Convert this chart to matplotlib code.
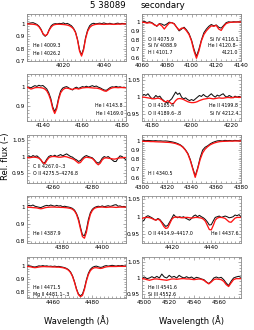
import numpy as np
import matplotlib
matplotlib.use("Agg")
import matplotlib.pyplot as plt
from matplotlib.ticker import MultipleLocator, FuncFormatter

# ---------------- data ----------------
# each panel: wavelength grid start / step, observed (black) and model (red) flux
wl_4000 = (4002, 1)
obs_4000 = [1.002, 1.005, 1.008, 1.010, 1.003, 0.995, 0.980, 0.955, 0.915, 0.900,
            0.915, 0.955, 0.985, 0.998, 1.002, 1.000, 1.004, 1.002, 1.008, 1.000,
            1.004, 0.995, 0.985, 0.965, 0.935, 0.875, 0.790, 0.750, 0.800, 0.890,
            0.950, 0.985, 1.000, 1.005, 1.000, 1.003, 1.006, 1.002, 1.008, 1.003,
            1.000, 1.005, 1.000, 0.997, 1.003, 1.006, 1.000, 1.004, 1.002, 1.000, 1.001]
mod_4000 = [1.000, 1.000, 0.998, 0.997, 0.995, 0.990, 0.975, 0.950, 0.920, 0.905,
            0.915, 0.950, 0.975, 0.990, 0.995, 0.997, 0.997, 0.996, 0.995, 0.993,
            0.990, 0.985, 0.975, 0.960, 0.930, 0.870, 0.780, 0.740, 0.790, 0.880,
            0.940, 0.970, 0.985, 0.992, 0.996, 0.998, 0.998, 0.997, 0.996, 0.997,
            0.998, 0.998, 0.997, 0.996, 0.997, 0.998, 0.998, 0.999, 1.000, 1.000, 1.000]

wl_4060 = (4060, 2)
obs_4060 = [0.997, 1.005, 0.990, 1.000, 0.990, 0.970, 0.950, 0.980, 0.975, 0.960,
            0.975, 0.995, 0.990, 0.980, 0.940, 0.900, 0.920, 0.940, 0.910, 0.870,
            0.800, 0.700, 0.620, 0.700, 0.800, 0.880, 0.920, 0.950, 0.970, 0.955,
            0.965, 0.940, 0.930, 0.960, 0.990, 1.000, 0.995, 1.000, 0.998, 1.000, 0.997]
mod_4060 = [0.995, 0.993, 0.985, 0.990, 0.985, 0.965, 0.955, 0.975, 0.955, 0.920,
            0.955, 0.985, 0.990, 0.975, 0.940, 0.910, 0.930, 0.930, 0.900, 0.860,
            0.790, 0.680, 0.600, 0.680, 0.790, 0.860, 0.900, 0.930, 0.955, 0.950,
            0.960, 0.920, 0.905, 0.950, 0.980, 0.990, 0.995, 0.995, 0.997, 0.997, 0.998]

wl_4132 = (4132, 1)
obs_4132 = [1.002, 1.000, 0.996, 1.003, 1.008, 1.004, 1.010, 1.006, 1.009, 1.000,
            0.990, 0.970, 0.940, 0.895, 0.870, 0.895, 0.945, 0.980, 0.995, 1.000,
            1.003, 0.997, 0.990, 0.985, 0.995, 1.000, 0.993, 0.998, 1.003, 1.000,
            1.005, 1.000, 1.004, 1.008, 1.003, 1.006, 1.000, 0.996, 0.990, 0.985,
            0.983, 0.990, 0.998, 1.002, 1.000, 1.004, 1.000, 1.002, 0.998, 1.000, 0.997]
mod_4132 = [1.000, 0.995, 0.990, 0.993, 0.997, 0.998, 0.998, 0.997, 0.995, 0.990,
            0.980, 0.960, 0.930, 0.885, 0.860, 0.885, 0.935, 0.970, 0.985, 0.993,
            0.995, 0.993, 0.990, 0.988, 0.992, 0.993, 0.990, 0.993, 0.996, 0.997,
            0.998, 0.998, 0.997, 0.996, 0.995, 0.995, 0.993, 0.990, 0.985, 0.980,
            0.978, 0.985, 0.992, 0.996, 0.998, 0.998, 0.997, 0.998, 0.998, 0.997, 0.997]

wl_4175 = (4175, 1)
obs_4175 = [1.003, 1.008, 1.005, 1.010, 1.002, 0.995, 0.998, 1.005, 1.000, 1.003,
            0.995, 0.990, 0.985, 0.983, 0.990, 0.995, 1.005, 1.015, 1.008, 1.012,
            1.000, 0.995, 0.998, 0.993, 0.990, 0.993, 0.990, 0.995, 1.000, 1.005,
            1.002, 1.008, 1.003, 1.000, 1.005, 1.010, 1.004, 1.000, 1.006, 1.003,
            1.007, 1.010, 1.003, 1.000, 1.005, 1.002, 0.998, 1.003, 1.000, 1.002, 1.000]
mod_4175 = [1.000, 1.000, 0.999, 0.998, 0.997, 0.996, 0.995, 0.996, 0.997, 0.996,
            0.993, 0.988, 0.986, 0.990, 0.985, 0.980, 0.982, 0.990, 0.995, 0.996,
            0.995, 0.993, 0.990, 0.987, 0.985, 0.984, 0.984, 0.985, 0.987, 0.990,
            0.992, 0.994, 0.995, 0.996, 0.997, 0.996, 0.995, 0.996, 0.997, 0.998,
            0.997, 0.997, 0.998, 0.999, 0.999, 0.998, 0.999, 1.000, 1.000, 0.999, 1.000]

wl_4247 = (4247, 1)
obs_4247 = [1.000, 1.002, 0.998, 1.003, 1.000, 1.002, 0.997, 0.990, 0.980, 0.982,
            0.992, 1.000, 1.003, 1.000, 1.004, 1.000, 1.003, 1.006, 1.002, 1.005,
            1.008, 1.004, 1.000, 0.998, 0.993, 0.990, 0.985, 0.988, 0.995, 1.000,
            1.003, 1.000, 0.998, 0.996, 0.990, 0.983, 0.980, 0.985, 0.995, 1.000,
            0.997, 1.000, 0.995, 0.990, 0.985, 0.985, 0.995, 1.002, 1.000, 0.995, 0.990]
mod_4247 = [0.997, 0.996, 0.997, 0.998, 0.998, 0.997, 0.995, 0.990, 0.982, 0.978,
            0.988, 0.996, 0.999, 1.000, 1.000, 0.999, 0.998, 0.998, 0.999, 1.000,
            0.999, 0.997, 0.995, 0.993, 0.990, 0.985, 0.980, 0.982, 0.990, 0.996,
            0.998, 0.997, 0.996, 0.994, 0.988, 0.980, 0.975, 0.980, 0.990, 0.995,
            0.996, 0.995, 0.994, 0.993, 0.992, 0.993, 0.995, 0.996, 0.996, 0.997, 0.997]

wl_4299 = (4299, 2)
obs_4299 = [1.000, 1.003, 1.000, 1.002, 1.000, 0.998, 1.000, 0.997, 0.998, 0.995,
            0.997, 0.994, 0.990, 0.985, 0.978, 0.968, 0.955, 0.935, 0.905, 0.865,
            0.800, 0.710, 0.625, 0.710, 0.820, 0.900, 0.930, 0.945, 0.965, 0.980,
            0.990, 0.998, 1.000, 0.997, 1.003, 1.000, 1.002, 0.998, 1.003, 1.000,
            0.998, 1.000]
mod_4299 = [0.995, 0.993, 0.992, 0.992, 0.990, 0.990, 0.988, 0.987, 0.986, 0.985,
            0.983, 0.982, 0.980, 0.975, 0.970, 0.960, 0.950, 0.930, 0.900, 0.860,
            0.790, 0.700, 0.610, 0.700, 0.800, 0.870, 0.910, 0.935, 0.955, 0.968,
            0.978, 0.985, 0.990, 0.992, 0.993, 0.994, 0.995, 0.995, 0.996, 0.996,
            0.997, 0.997]

wl_4362 = (4362, 1)
obs_4362 = [1.005, 1.008, 1.005, 1.010, 1.003, 1.000, 0.997, 0.995, 1.000, 1.005,
            1.008, 1.005, 1.010, 1.006, 1.003, 1.008, 1.004, 1.006, 1.000, 1.003,
            1.000, 0.998, 0.995, 0.990, 0.980, 0.960, 0.930, 0.880, 0.835, 0.830,
            0.865, 0.925, 0.965, 0.985, 0.995, 1.000, 1.003, 1.000, 1.005, 1.000,
            1.003, 1.006, 1.002, 1.005, 1.010, 1.012, 1.003, 1.005, 1.000, 1.002, 0.998]
mod_4362 = [0.998, 0.997, 0.996, 0.995, 0.994, 0.993, 0.990, 0.988, 0.990, 0.994,
            0.996, 0.997, 0.998, 0.998, 0.998, 0.997, 0.997, 0.996, 0.996, 0.995,
            0.994, 0.992, 0.990, 0.985, 0.975, 0.955, 0.920, 0.870, 0.825, 0.815,
            0.850, 0.910, 0.955, 0.978, 0.990, 0.995, 0.997, 0.998, 0.998, 0.997,
            0.996, 0.997, 0.998, 0.998, 0.997, 0.996, 0.997, 0.998, 0.998, 0.998, 0.998]

wl_4405 = (4405, 1)
obs_4405 = [0.985, 0.990, 1.000, 1.003, 1.000, 0.997, 0.993, 0.990, 0.995, 0.992,
            0.985, 0.978, 0.972, 0.975, 0.985, 0.995, 1.006, 1.000, 0.997, 1.000,
            0.998, 1.000, 0.996, 0.993, 0.990, 0.995, 1.002, 1.005, 1.000, 1.004,
            1.000, 0.997, 0.992, 0.985, 0.976, 0.977, 0.988, 0.998, 1.000, 1.002,
            0.998, 1.000, 1.002, 1.000, 0.997, 0.998, 1.000, 1.005, 1.003, 1.006, 1.000]
mod_4405 = [0.995, 0.997, 0.998, 0.998, 0.997, 0.995, 0.992, 0.990, 0.993, 0.990,
            0.982, 0.972, 0.966, 0.968, 0.980, 0.992, 0.998, 0.999, 0.999, 0.998,
            0.997, 0.997, 0.998, 0.998, 0.997, 0.996, 0.997, 0.998, 0.998, 0.997,
            0.996, 0.993, 0.987, 0.975, 0.963, 0.962, 0.975, 0.990, 0.996, 0.998,
            0.998, 0.997, 0.995, 0.990, 0.985, 0.984, 0.990, 0.996, 0.998, 0.998, 0.998]

wl_4447 = (4447, 1)
obs_4447 = [1.005, 1.002, 1.000, 0.995, 0.993, 0.997, 1.002, 1.000, 1.004, 1.000,
            1.002, 0.998, 1.000, 0.997, 1.000, 0.996, 0.998, 0.995, 0.992, 0.988,
            0.982, 0.972, 0.955, 0.925, 0.880, 0.825, 0.785, 0.772, 0.785, 0.830,
            0.895, 0.945, 0.975, 0.990, 0.997, 1.000, 0.995, 0.990, 0.992, 1.000,
            1.004, 1.000, 1.003, 1.006, 1.003, 1.000, 1.004, 1.002, 1.005, 1.000, 1.002]
mod_4447 = [0.997, 0.996, 0.994, 0.990, 0.988, 0.990, 0.993, 0.995, 0.996, 0.996,
            0.995, 0.995, 0.994, 0.993, 0.993, 0.992, 0.992, 0.990, 0.988, 0.984,
            0.978, 0.968, 0.950, 0.920, 0.875, 0.820, 0.780, 0.765, 0.775, 0.820,
            0.885, 0.935, 0.965, 0.980, 0.987, 0.988, 0.985, 0.982, 0.984, 0.990,
            0.994, 0.996, 0.997, 0.997, 0.997, 0.997, 0.998, 0.998, 0.998, 0.998, 0.998]

wl_4498 = (4498, 2)
obs_4498 = [1.000, 1.003, 0.998, 1.000, 1.004, 1.000, 1.005, 1.000, 1.012, 1.003,
            1.000, 1.008, 1.002, 1.005, 1.000, 1.008, 1.003, 1.000, 1.004, 1.000,
            1.003, 0.998, 1.002, 1.000, 0.997, 0.995, 0.988, 0.983, 0.990, 1.000,
            1.003, 1.000, 1.002, 0.995, 0.985, 0.977, 0.990, 1.000, 1.003, 1.005, 1.002]
mod_4498 = [0.998, 0.997, 0.995, 0.993, 0.995, 0.997, 0.997, 0.996, 0.995, 0.994,
            0.993, 0.995, 0.997, 0.997, 0.996, 0.997, 0.998, 0.998, 0.997, 0.997,
            0.996, 0.995, 0.996, 0.997, 0.996, 0.993, 0.987, 0.982, 0.988, 0.995,
            0.997, 0.996, 0.995, 0.990, 0.980, 0.974, 0.985, 0.995, 0.998, 0.998, 0.998]

x_limits = [(4002, 4051), (4060, 4140), (4132, 4182), (4175, 4225), (4247, 4297),
            (4300, 4380), (4362, 4412), (4405, 4455), (4447, 4497), (4498, 4578)]
y_limits = [(0.70, 1.08), (0.57, 1.085), (0.82, 1.07), (0.93, 1.068), (0.92, 1.065),
            (0.55, 1.06), (0.787, 1.063), (0.924, 1.06), (0.755, 1.07), (0.939, 1.064)]
y_major = [0.1, 0.1, 0.1, 0.05, 0.05, 0.1, 0.1, 0.05, 0.1, 0.05]

line_labels = [
    [("He I 4009.3", "l", 0), ("He I 4026.2", "l", 1)],
    [("O II 4075.9", "l", 0), ("Si IV 4088.9", "l", 1), ("H I 4101.7", "l", 2),
     ("Si IV 4116.1", "r", 0), ("He I 4120.8\u2013", "r", 1), ("4121.0", "r", 2)],
    [("He I 4143.8", "r", 0), ("He I 4169.0", "r", 1)],
    [("O II 4185.4", "l", 0), ("O II 4189.6\u2013.8", "l", 1),
     ("He II 4199.8", "r", 0), ("Si IV 4212.4", "r", 1)],
    [("C II 4267.0\u2013.3", "l", 0), ("O II 4275.5\u20134276.8", "l", 1)],
    [("H I 4340.5", "l", 1)],
    [("He I 4387.9", "l", 0)],
    [("O II 4414.9\u20134417.0", "l", 0), ("He I 4437.6", "r", 0)],
    [("He I 4471.5", "l", 0), ("Mg II 4481.1\u2013.3", "l", 1)],
    [("He II 4541.6", "l", 0), ("Si III 4552.6", "l", 1)],
]

grids = [wl_4000, wl_4060, wl_4132, wl_4175, wl_4247, wl_4299, wl_4362, wl_4405, wl_4447, wl_4498]
observed = [obs_4000, obs_4060, obs_4132, obs_4175, obs_4247, obs_4299, obs_4362, obs_4405, obs_4447, obs_4498]
models = [mod_4000, mod_4060, mod_4132, mod_4175, mod_4247, mod_4299, mod_4362, mod_4405, mod_4447, mod_4498]

# ---------------- layout ----------------
W, H = 255, 330
fig = plt.figure(figsize=(W / 100, H / 100), dpi=100)
fig.patch.set_facecolor("white")

cols = [(27, 126), (142, 241)]
rows = [(14, 61), (74, 121), (135, 183), (196, 243), (257, 298)]

frame_col = "#8a8a8a"
fmt = FuncFormatter(lambda v, p: ("%g" % round(v, 3)))

for i in range(10):
    r, c = divmod(i, 2)
    (l, rr), (t, b) = cols[c], rows[r]
    ax = fig.add_axes([l / W, 1 - b / H, (rr - l) / W, (b - t) / H])
    start, step = grids[i]
    f_obs = np.asarray(observed[i])
    f_mod = np.asarray(models[i])
    wl = start + step * np.arange(len(f_obs))
    ax.plot(wl, f_obs, color="#111111", lw=0.75, zorder=2)
    ax.plot(wl, f_mod, color="#ff1414", lw=0.95, zorder=3)
    ax.set_xlim(*x_limits[i])
    ax.set_ylim(*y_limits[i])
    span = x_limits[i][1] - x_limits[i][0]
    ax.xaxis.set_major_locator(MultipleLocator(20))
    ax.xaxis.set_minor_locator(MultipleLocator(2 if span < 60 else 4))
    ax.yaxis.set_major_locator(MultipleLocator(y_major[i]))
    ax.yaxis.set_minor_locator(MultipleLocator(y_major[i] / 5))
    ax.yaxis.set_major_formatter(fmt)
    ax.tick_params(which="both", direction="in", top=True, right=True,
                   colors=frame_col, labelcolor="black", labelsize=4.2, pad=1.5, width=0.5)
    ax.tick_params(which="major", length=2.2)
    ax.tick_params(which="minor", length=1.1)
    for s in ax.spines.values():
        s.set_color(frame_col)
        s.set_linewidth(0.6)
    # line identifications
    if r == 0 and c == 1:
        ys = [0.46, 0.32, 0.18]
    elif r == 2:
        ys = [0.353, 0.204]
    elif r == 3:
        ys = [0.206]
    elif r == 4:
        ys = [0.25, 0.09]
    else:
        ys = [0.326, 0.164]
    for text, side, k in line_labels[i]:
        if side == "l":
            ax.text(0.06, ys[k], text, transform=ax.transAxes, fontsize=3.4,
                    ha="left", va="center", color="black")
        else:
            ax.text(0.97, ys[k], text, transform=ax.transAxes, fontsize=3.4,
                    ha="right", va="center", color="black")

fig.text(108 / W, 1 - 6 / H, "5 38089", fontsize=6.2, ha="center", va="center")
fig.text(163 / W, 1 - 6 / H, "secondary", fontsize=6.2, ha="center", va="center")
fig.text(6 / W, 1 - 156 / H, "Rel. flux (\u2013)", fontsize=6, rotation=90,
         ha="center", va="center")
fig.text(76.5 / W, 1 - 321 / H, "Wavelength (\u00c5)", fontsize=6, ha="center", va="center")
fig.text(191.5 / W, 1 - 321 / H, "Wavelength (\u00c5)", fontsize=6, ha="center", va="center")

fig.savefig("out.png", dpi=100, facecolor="white")
